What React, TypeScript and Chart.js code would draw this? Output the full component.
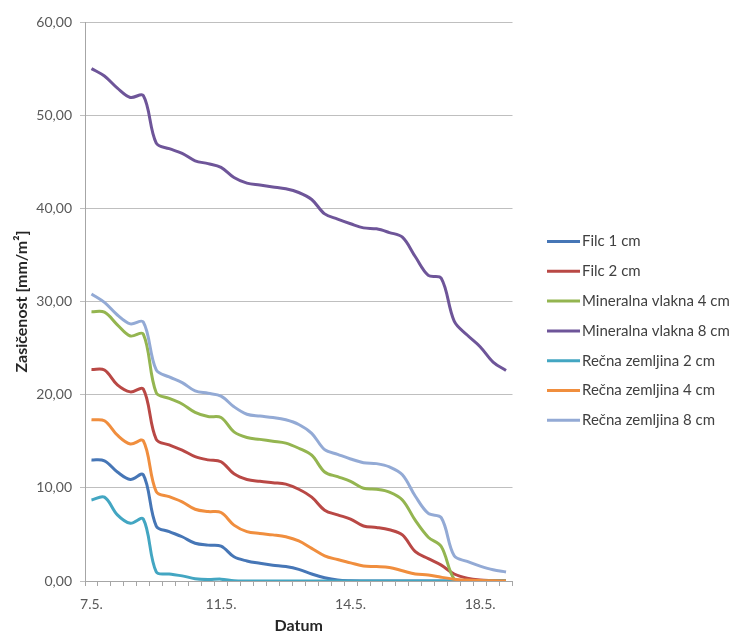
import React, { useEffect, useRef } from "react";
import { Chart, registerables } from "chart.js";

Chart.register(...registerables);

const categories: string[] = [
  "7.5.", "", "", "", "", "", "", "", "", "",
  "11.5.", "", "", "", "", "", "", "", "", "",
  "14.5.", "", "", "", "", "", "", "", "", "",
  "18.5.", "", "",
];

const seriesNames: string[] = [
  "Filc 1 cm",
  "Filc 2 cm",
  "Mineralna vlakna 4 cm",
  "Mineralna vlakna 8 cm",
  "Rečna zemljina 2 cm",
  "Rečna zemljina 4 cm",
  "Rečna zemljina 8 cm",
];

const seriesColors: string[] = [
  "#4676B6",
  "#B94845",
  "#94B550",
  "#6E5599",
  "#43A6C2",
  "#F08E3E",
  "#93AAD5",
];

const filc1: number[] = [
  13.0, 12.9, 11.7, 10.9, 11.4, 5.9, 5.3, 4.75, 4.05, 3.85,
  3.75, 2.6, 2.15, 1.9, 1.7, 1.55, 1.25, 0.75, 0.35, 0.1,
  0.02, 0, 0, 0, 0, 0, 0, 0, 0, 0,
  0, 0, 0,
];
const filc2: number[] = [
  22.7, 22.65, 21.05, 20.3, 20.6, 15.2, 14.6, 14.05, 13.35, 13.0,
  12.8, 11.5, 10.9, 10.7, 10.55, 10.4, 9.85, 9.0, 7.6, 7.1,
  6.65, 5.9, 5.75, 5.5, 4.95, 3.15, 2.4, 1.7, 0.75, 0.3,
  0.1, 0.05, 0,
];
const mineralna4: number[] = [
  28.9, 28.85, 27.5, 26.3, 26.5, 20.2, 19.6, 19.0, 18.1, 17.65,
  17.55, 16.0, 15.4, 15.2, 15.0, 14.8, 14.25, 13.5, 11.7, 11.2,
  10.7, 9.95, 9.85, 9.55, 8.7, 6.5, 4.7, 3.7, 0.2, 0,
  0, 0, 0,
];
const mineralna8: number[] = [
  55.0, 54.2, 52.9, 51.9, 52.1, 47.0, 46.4, 45.9, 45.1, 44.8,
  44.4, 43.3, 42.7, 42.5, 42.3, 42.1, 41.7, 40.95, 39.4, 38.85,
  38.35, 37.9, 37.8, 37.4, 36.9, 34.8, 32.8, 32.5, 27.9, 26.4,
  25.15, 23.5, 22.6,
];
const recna2: number[] = [
  8.7, 9.0, 7.1, 6.2, 6.65, 0.97, 0.75, 0.55, 0.25, 0.15,
  0.2, 0.03, 0, 0, 0, 0, 0, 0, 0, 0,
  0, 0, 0, 0, 0, 0, 0, 0, 0, 0,
  0, 0, 0,
];
const recna4: number[] = [
  17.3, 17.2, 15.65, 14.7, 15.05, 9.6, 9.05, 8.5, 7.7, 7.45,
  7.35, 6.0, 5.3, 5.1, 4.95, 4.75, 4.3, 3.5, 2.7, 2.3,
  1.95, 1.6, 1.55, 1.45, 1.1, 0.75, 0.65, 0.4, 0.2, 0.1,
  0.05, 0.02, 0,
];
const recna8: number[] = [
  30.8, 29.9, 28.55, 27.6, 27.8, 22.65, 21.9, 21.3, 20.4, 20.15,
  19.85, 18.7, 17.9, 17.7, 17.55, 17.3, 16.8, 15.85, 14.1, 13.6,
  13.1, 12.7, 12.6, 12.25, 11.4, 9.1, 7.25, 6.8, 2.7, 2.1,
  1.6, 1.2, 0.97,
];

const seriesValues: number[][] = [filc1, filc2, mineralna4, mineralna8, recna2, recna4, recna8];

const FONT = "Lato, 'Open Sans', sans-serif";

const legendPlugin = {
  id: "sideLegend",
  afterDraw(chart: any) {
    const ctx = chart.ctx;
    ctx.save();
    chart.data.datasets.forEach((ds: any, i: number) => {
      const y = 241.5 + i * 29.8;
      ctx.strokeStyle = ds.borderColor;
      ctx.lineWidth = 3;
      ctx.beginPath();
      ctx.moveTo(547, y);
      ctx.lineTo(580, y);
      ctx.stroke();
      ctx.fillStyle = "#404040";
      ctx.font = `15px ${FONT}`;
      ctx.textBaseline = "middle";
      ctx.textAlign = "left";
      ctx.fillText(ds.label, 582, y);
    });
    ctx.restore();
  },
};

export default function App() {
  const canvasRef = useRef<HTMLCanvasElement | null>(null);

  useEffect(() => {
    if (!canvasRef.current) return;
    const chart = new Chart(canvasRef.current, {
      type: "line",
      data: {
        labels: categories,
        datasets: seriesNames.map((name, i) => ({
          label: name,
          data: seriesValues[i],
          borderColor: seriesColors[i],
          backgroundColor: seriesColors[i],
          borderWidth: 3,
          pointRadius: 0,
          tension: 0.35,
          fill: false,
          order: seriesNames.length - i,
        })),
      },
      options: {
        animation: false,
        responsive: false,
        maintainAspectRatio: false,
        layout: { padding: { left: 0, right: 224.5, top: 22, bottom: 0 } },
        plugins: {
          legend: { display: false },
          tooltip: { enabled: false },
        },
        scales: {
          x: {
            type: "category",
            offset: true,
            afterFit: (s: any) => {
              s.height = 54;
            },
            grid: {
              offset: true,
              drawOnChartArea: false,
              drawTicks: true,
              tickLength: 5,
              color: "#a6a6a6",
            },
            border: { display: true, color: "#a6a6a6" },
            ticks: {
              autoSkip: false,
              maxRotation: 0,
              minRotation: 0,
              padding: 10,
              color: "#595959",
              font: { family: FONT, size: 14 },
              callback: (_v: any, index: number) => categories[index],
            },
            title: {
              display: true,
              text: "Datum",
              color: "#262626",
              font: { family: FONT, size: 16, weight: "bold" },
              padding: { top: 0, bottom: 0 },
            },
          },
          y: {
            min: 0,
            max: 60,
            afterFit: (s: any) => {
              s.width = 85;
            },
            grid: {
              color: "#bfbfbf",
              drawTicks: true,
              tickLength: 5,
            },
            border: { display: true, color: "#a6a6a6" },
            ticks: {
              stepSize: 10,
              padding: 8,
              color: "#595959",
              font: { family: FONT, size: 14 },
              callback: (v: any) => Number(v).toFixed(2).replace(".", ","),
            },
            title: {
              display: true,
              text: "Zasičenost [mm/m²]",
              color: "#262626",
              font: { family: FONT, size: 16, weight: "bold" },
              padding: { top: 12, bottom: 0 },
            },
          },
        },
      },
      plugins: [legendPlugin],
    });
    return () => chart.destroy();
  }, []);

  return (
    <div style={{ position: "fixed", left: 0, top: 0, width: 737, height: 635, background: "#ffffff" }}>
      <canvas ref={canvasRef} width={737} height={635} style={{ width: 737, height: 635, display: "block" }} />
    </div>
  );
}
